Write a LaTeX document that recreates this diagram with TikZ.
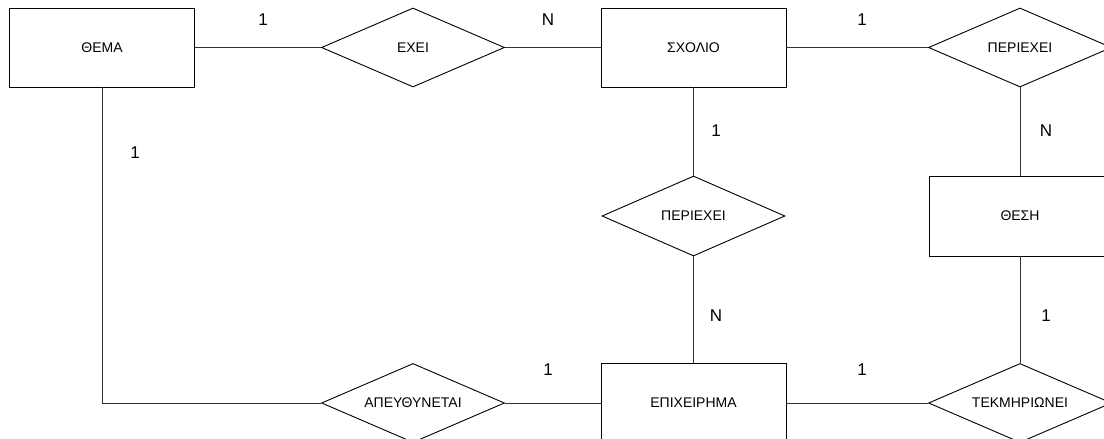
\documentclass[tikz,border=0pt]{standalone}
\usepackage{fontspec}
\setmainfont{Liberation Sans}
\usetikzlibrary{shapes.geometric}
\begin{document}
\begin{tikzpicture}[x=1pt,y=-1pt,
  entity/.style={draw=black,line width=0.9pt,rectangle,inner sep=0pt,minimum width=185pt,minimum height=79pt,font=\fontsize{14}{16}\selectfont},
  rel/.style={draw=black,line width=0.9pt,diamond,aspect=2.3,inner sep=0pt,minimum width=183pt,minimum height=79pt,font=\fontsize{14}{16}\selectfont},
  conn/.style={draw=black!80,line width=1pt},
  card/.style={font=\fontsize{17}{19}\selectfont,inner sep=0pt}]
\useasboundingbox (0,0) rectangle (1104,439);
\clip (0,0) rectangle (1104,439);
\fill[white] (0,0) rectangle (1104,439);
% nodes
\node[entity] (thema) at (102,47.5) {ΘΕΜΑ};
\node[rel] (exei) at (413,47.5) {ΕΧΕΙ};
\node[entity] (sxolio) at (693.5,47.5) {ΣΧΟΛΙΟ};
\node[rel] (per1) at (1020,47.5) {ΠΕΡΙΕΧΕΙ};
\node[entity,minimum width=182pt,minimum height=80pt] (thesi) at (1020,216) {ΘΕΣΗ};
\node[rel,minimum height=80pt] (per2) at (693.5,216) {ΠΕΡΙΕΧΕΙ};
\node[entity] (epix) at (693.5,403) {ΕΠΙΧΕΙΡΗΜΑ};
\node[rel] (apeu) at (413,403) {ΑΠΕΥΘΥΝΕΤΑΙ};
\node[rel] (tekm) at (1020,403) {ΤΕΚΜΗΡΙΩΝΕΙ};
\coordinate (corner) at (102,403);
% connectors
\draw[conn] (thema.east) -- (exei.west);
\draw[conn] (exei.east) -- (sxolio.west);
\draw[conn] (sxolio.east) -- (per1.west);
\draw[conn] (per1.south) -- (thesi.north);
\draw[conn] (thesi.south) -- (tekm.north);
\draw[conn] (sxolio.south) -- (per2.north);
\draw[conn] (per2.south) -- (epix.north);
\draw[conn] (thema.south) -- (corner) -- (apeu.west);
\draw[conn] (apeu.east) -- (epix.west);
\draw[conn] (epix.east) -- (tekm.west);
% cardinalities
\node[card] (c1) at (263,20) {1};
\node[card] (c2) at (548,20) {N};
\node[card] (c3) at (862,20) {1};
\node[card] (c4) at (135,153) {1};
\node[card] (c5) at (716,131) {1};
\node[card] (c6) at (1046,131) {N};
\node[card] (c7) at (716,316) {N};
\node[card] (c8) at (1046,316) {1};
\node[card] (c9) at (548,370) {1};
\node[card] (c10) at (862,370) {1};
\end{tikzpicture}
\end{document}
